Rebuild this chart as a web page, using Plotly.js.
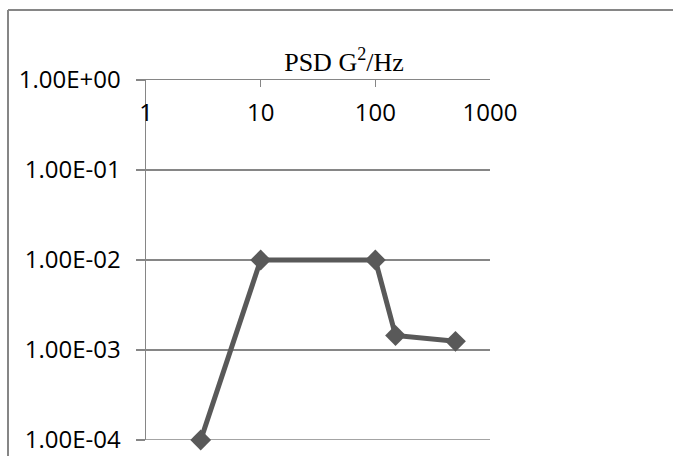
<!DOCTYPE html>
<html>
<head>
<meta charset="utf-8">
<script src="https://cdn.plot.ly/plotly-3.0.1.min.js"></script>
<style>html,body{margin:0;padding:0;background:#fff;}#chart{width:673px;height:456px;}</style>
</head>
<body>
<div id="chart"></div>
<script>
var freq = [3, 10, 100, 150, 500];
var psd = [1e-4, 1e-2, 1e-2, 1.45e-3, 1.25e-3];
var xTickVals = [1, 10, 100, 1000];
var xTickText = ['1', '10', '100', '1000'];
var yTickVals = [1e-4, 1e-3, 1e-2, 1e-1, 1];
var yTickText = ['1.00E-04', '1.00E-03', '1.00E-02', '1.00E-01', '1.00E+00'];
var titleText = 'PSD G<sup>2</sup>/Hz';

var axisGrey = '#868686';
var trace = {
  x: freq, y: psd, type: 'scatter', mode: 'lines+markers',
  line: {color: '#595959', width: 5},
  marker: {symbol: 'diamond', size: 16, color: '#595959'},
  hoverinfo: 'none', showlegend: false, cliponaxis: false
};
var bx0 = (8 - 146) / 344, bx1 = (760 - 146) / 344;
var by0 = (440 - 500) / 360, by1 = (440 - 10) / 360;
var layout = {
  width: 673, height: 456,
  margin: {l: 146, r: 183, t: 80, b: 16},
  paper_bgcolor: '#fff', plot_bgcolor: '#fff',
  title: {text: titleText, font: {family: 'Liberation Serif', size: 26, color: '#000'},
          x: 344/673, xanchor: 'center', y: 1 - 62/456, yanchor: 'middle'},
  xaxis: {
    type: 'log', range: [0, 3], side: 'top',
    tickvals: xTickVals, ticktext: xTickText,
    ticks: 'inside', ticklen: 7, tickwidth: 1.5, tickcolor: axisGrey,
    ticklabelposition: 'inside', ticklabelstandoff: 19, ticklabeloverflow: 'allow',
    showline: true, linecolor: axisGrey, linewidth: 1.5,
    showgrid: false, zeroline: false,
    tickfont: {family: 'Open Sans', size: 24, color: '#000'}
  },
  yaxis: {
    type: 'log', range: [-4, 0],
    tickvals: yTickVals, ticktext: yTickText,
    ticks: 'outside', ticklen: 9, tickwidth: 1.5, tickcolor: axisGrey,
    ticklabelstandoff: 10, ticklabeloverflow: 'allow',
    showline: true, linecolor: axisGrey, linewidth: 1.5,
    showgrid: true, gridcolor: axisGrey, gridwidth: 1.5, zeroline: false,
    tickfont: {family: 'Open Sans', size: 24, color: '#000'}
  },
  shapes: [{
    type: 'line', xref: 'paper', yref: 'paper',
    x0: bx0, x1: bx1, y0: by1, y1: by1,
    line: {color: axisGrey, width: 2}, layer: 'below'
  }, {
    type: 'line', xref: 'paper', yref: 'paper',
    x0: bx0, x1: bx0, y0: by0, y1: by1,
    line: {color: axisGrey, width: 2}, layer: 'below'
  }, {
    type: 'line', xref: 'paper', yref: 'y',
    x0: 0, x1: 1, y0: yTickVals[0], y1: yTickVals[0],
    line: {color: axisGrey, width: 1.5}, layer: 'below'
  }]
};
Plotly.newPlot('chart', [trace], layout, {displayModeBar: false, staticPlot: true});
</script>
</body>
</html>
